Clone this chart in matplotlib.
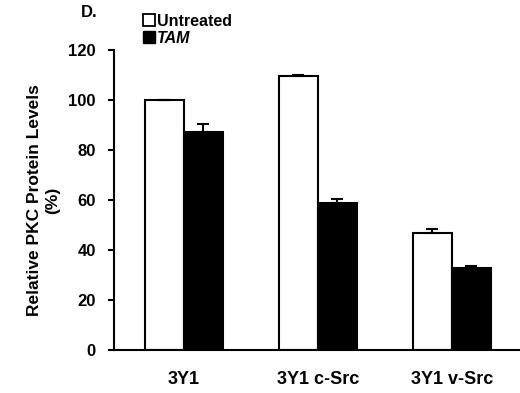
import matplotlib
matplotlib.use('Agg')
import matplotlib.pyplot as plt
import numpy as np
from matplotlib.lines import Line2D

plt.rcParams['font.family'] = ['Liberation Sans', 'DejaVu Sans']
plt.rcParams['font.weight'] = 'bold'

groups = ['3Y1', '3Y1 c-Src', '3Y1 v-Src']
untreated = [100, 109.5, 47]
untreated_err = [0, 0.6, 1.6]
tam = [87, 59, 33]
tam_err = [3.5, 1.5, 0.7]

fig = plt.figure(figsize=(5.2, 3.93), dpi=100)
ax = fig.add_axes([0.219, 0.109, 0.779, 0.764])

x = np.arange(len(groups))
w = 0.29
ax.bar(x - w / 2, untreated, w, color='white', edgecolor='black', linewidth=1.5,
       yerr=[np.zeros(3), untreated_err], capsize=4, error_kw=dict(lw=1.5, capthick=1.5))
ax.bar(x + w / 2, tam, w, color='black', edgecolor='black', linewidth=1.5,
       yerr=[np.zeros(3), tam_err], capsize=4, error_kw=dict(lw=1.5, capthick=1.5))

ax.set_xlim(-0.52, 2.5)
ax.set_ylim(0, 120)
ax.set_yticks([0, 20, 40, 60, 80, 100, 120])
ax.spines['top'].set_visible(False)
ax.spines['right'].set_visible(False)
ax.spines['left'].set_linewidth(1.5)
ax.spines['bottom'].set_linewidth(1.5)
ax.tick_params(axis='y', direction='out', length=4, width=1.5, labelsize=12, pad=9)
ax.tick_params(axis='x', length=0, labelsize=13, pad=15)
ax.set_xticks(x)
ax.set_xticklabels(groups, fontweight='bold')
for t in ax.get_yticklabels():
    t.set_fontweight('bold')
ax.set_ylabel('Relative PKC Protein Levels\n(%)', fontsize=12.5, fontweight='bold', labelpad=6)

fig.text(0.155, 0.968, 'D.', fontsize=12, fontweight='bold', va='center')

handles = [Line2D([], [], marker='s', ls='none', mfc='white', mec='black', ms=8, mew=1.3),
           Line2D([], [], marker='s', ls='none', mfc='black', mec='black', ms=8)]
leg = ax.legend(handles, ['Untreated', 'TAM'], loc='center left', bbox_to_anchor=(0.055, 1.067),
                frameon=False, handlelength=0.6, handletextpad=0.2, labelspacing=0.15,
                borderpad=0, prop={'weight': 'bold', 'size': 11.5})
leg.get_texts()[1].set_style('italic')

fig.savefig('out.png', dpi=100)
